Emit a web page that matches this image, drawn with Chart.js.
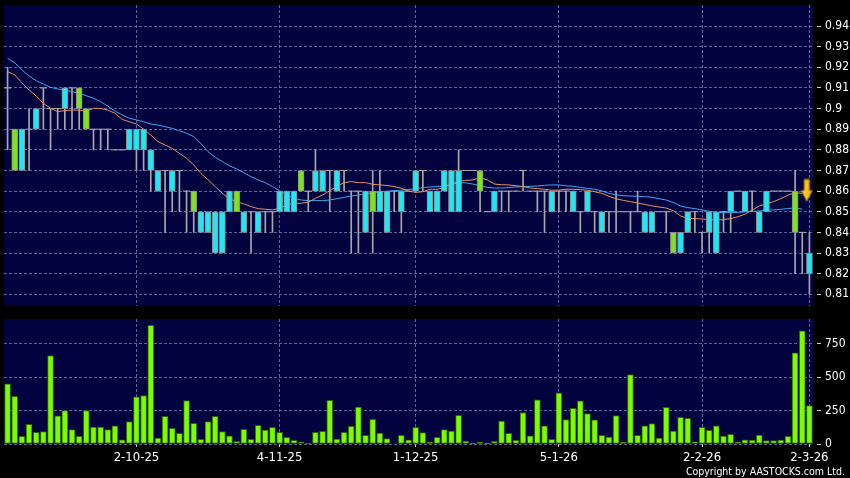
<!DOCTYPE html>
<html><head><meta charset="utf-8">
<script src="https://cdn.jsdelivr.net/npm/chart.js@4"></script>
<style>
html,body{margin:0;padding:0;background:#000;}
#wrap{position:relative;width:850px;height:478px;overflow:hidden;background:#000;}
#pc{position:absolute;left:0;top:0;width:850px;height:312px;}
#vc{position:absolute;left:0;top:310px;width:850px;height:168px;}
#copy{position:absolute;right:5px;top:464px;color:#fff;font:10.5px "DejaVu Sans Condensed","DejaVu Sans",sans-serif;line-height:14px;white-space:nowrap;}
</style></head>
<body><div id="wrap">
<canvas id="pc" width="850" height="312"></canvas>
<canvas id="vc" width="850" height="168"></canvas>
<div id="copy">Copyright by AASTOCKS.com Ltd.</div>
</div>
<script>
// ---- data ----
const tickIndex = [18, 38, 57, 77, 97, 112];
const tickText = ['2-10-25', '4-11-25', '1-12-25', '5-1-26', '2-2-26', '2-3-26'];
const priceTicks = [0.81,0.82,0.83,0.84,0.85,0.86,0.87,0.88,0.89,0.90,0.91,0.92,0.93,0.94];
const volumeTicks = [0, 250, 500, 750];

const openP = [
 .91,.87,.89,.89,.90,.91,.90,.90,.91,.91,
 .90,.89,.89,.89,.89,.88,.88,.89,.89,.89,
 .88,.87,.87,.87,.87,.86,.85,.85,.85,.85,
 .85,.86,.85,.85,.85,.85,.85,.85,.86,.86,
 .86,.86,.86,.87,.87,.87,.87,.87,.86,.86,
 .86,.85,.86,.86,.86,.86,.86,.87,.87,.86,
 .86,.87,.87,.87,.87,.87,.86,.85,.86,.86,
 .86,.86,.87,.86,.86,.86,.86,.86,.86,.86,
 .85,.86,.85,.85,.85,.85,.85,.85,.85,.85,
 .85,.85,.85,.83,.84,.85,.85,.84,.85,.85,
 .85,.86,.86,.86,.86,.85,.86,.86,.86,.86,
 .84,.84,.83];
const highP = [
 .92,.89,.89,.90,.90,.91,.90,.90,.91,.91,
 .91,.90,.89,.89,.89,.88,.88,.89,.89,.89,
 .88,.87,.87,.87,.87,.86,.86,.85,.85,.85,
 .85,.86,.86,.85,.85,.85,.85,.85,.86,.86,
 .86,.87,.86,.88,.87,.87,.87,.87,.86,.86,
 .86,.87,.87,.86,.86,.86,.86,.87,.87,.86,
 .86,.87,.87,.88,.87,.87,.87,.85,.86,.86,
 .86,.86,.87,.86,.86,.86,.86,.86,.86,.86,
 .85,.86,.85,.85,.85,.86,.85,.85,.86,.85,
 .85,.85,.85,.84,.84,.85,.85,.84,.85,.85,
 .85,.86,.86,.86,.86,.85,.86,.86,.86,.86,
 .87,.84,.84];
const lowP = [
 .88,.87,.87,.87,.89,.89,.88,.89,.89,.89,
 .89,.89,.88,.88,.88,.88,.88,.88,.87,.87,
 .86,.86,.84,.85,.85,.84,.84,.84,.84,.83,
 .83,.85,.85,.84,.83,.84,.84,.84,.85,.85,
 .85,.86,.85,.86,.86,.85,.86,.86,.83,.83,
 .84,.83,.85,.84,.85,.84,.86,.86,.86,.85,
 .85,.86,.85,.85,.87,.87,.85,.85,.85,.85,
 .85,.86,.86,.86,.85,.84,.85,.85,.85,.85,
 .84,.85,.84,.84,.84,.84,.85,.84,.85,.84,
 .84,.85,.84,.83,.83,.84,.84,.83,.83,.83,
 .84,.84,.86,.85,.85,.84,.85,.86,.86,.86,
 .82,.82,.81];
const closeP = [
 .91,.89,.87,.89,.89,.91,.90,.90,.90,.91,
 .91,.90,.89,.89,.89,.88,.88,.88,.88,.88,
 .87,.86,.87,.86,.87,.86,.86,.84,.84,.83,
 .83,.85,.86,.84,.85,.84,.85,.85,.85,.85,
 .85,.87,.86,.86,.86,.87,.86,.87,.86,.86,
 .84,.86,.85,.84,.86,.85,.86,.86,.87,.85,
 .85,.86,.85,.85,.87,.87,.87,.85,.85,.86,
 .86,.86,.87,.86,.86,.86,.85,.86,.86,.85,
 .85,.85,.85,.84,.85,.85,.85,.85,.85,.84,
 .84,.85,.85,.84,.83,.84,.85,.84,.84,.83,
 .85,.85,.86,.85,.86,.84,.85,.86,.86,.86,
 .86,.84,.82];
const maShort = [
 .9179,.9163,.9125,.9090,.9061,.9025,.9001,.8985,.8990,.8993,
 .8993,.8988,.9001,.9001,.8993,.8977,.8948,.8936,.8925,.8900,
 .8872,.8840,.8823,.8807,.8783,.8759,.8727,.8686,.8655,.8622,
 .8589,.8562,.8549,.8538,.8525,.8515,.8512,.8509,.8517,.8533,
 .8541,.8541,.8546,.8565,.8581,.8602,.8622,.8641,.8646,.8641,
 .8641,.8633,.8630,.8627,.8622,.8614,.8600,.8594,.8597,.8609,
 .8609,.8618,.8634,.8646,.8652,.8654,.8665,.8654,.8634,.8631,
 .8630,.8626,.8622,.8615,.8612,.8609,.8604,.8605,.8609,.8609,
 .8607,.8604,.8597,.8589,.8575,.8563,.8555,.8549,.8542,.8536,
 .8528,.8523,.8518,.8505,.8480,.8468,.8467,.8465,.8462,.8460,
 .8462,.8467,.8476,.8488,.8508,.8528,.8538,.8549,.8563,.8581,
 .8593,.8589,null];
const maLong = [
 .9243,.9222,.9187,.9158,.9135,.9119,.9103,.9095,.9090,.9082,
 .9074,.9062,.9050,.9033,.9012,.8988,.8969,.8953,.8945,.8936,
 .8925,.8920,.8912,.8904,.8893,.8880,.8864,.8831,.8791,.8764,
 .8743,.8723,.8707,.8689,.8670,.8654,.8641,.8622,.8602,.8581,
 .8565,.8557,.8554,.8554,.8554,.8557,.8563,.8570,.8576,.8581,
 .8586,.8593,.8596,.8599,.8602,.8605,.8608,.8611,.8617,.8620,
 .8622,.8625,.8633,.8640,.8640,.8634,.8626,.8618,.8615,.8615,
 .8617,.8620,.8622,.8623,.8625,.8628,.8630,.8630,.8626,.8623,
 .8618,.8613,.8609,.8601,.8589,.8582,.8578,.8576,.8575,.8573,
 .8570,.8563,.8557,.8544,.8528,.8520,.8515,.8509,.8502,.8497,
 .8496,.8496,.8497,.8499,.8502,.8504,.8507,.8509,.8512,.8515,
 .8520,.8512,null];
const volume = [
 450,357,57,147,87,92,662,210,250,107,
 57,250,127,127,107,135,32,167,352,362,
 887,45,207,117,80,325,155,35,167,207,
 92,62,20,110,35,140,105,125,87,50,
 27,15,7,87,95,327,37,87,132,277,
 65,185,82,40,0,65,32,125,85,12,
 50,107,97,215,22,2,12,2,20,172,
 80,27,235,62,330,135,35,382,182,267,
 322,227,180,65,52,212,12,520,65,135,
 152,45,275,97,200,192,17,125,102,135,
 60,72,12,32,30,67,25,25,30,57,
 682,847,287];
const signalIndex = 111;
const signalPrice = 0.8603;

// ---- derived tables ----
const categories = volume.map((_, i) => { const k = tickIndex.indexOf(i); return k >= 0 ? tickText[k] : ''; });
const wicks = lowP.map((l, i) => [l, highP[i]]);
const bodies = openP.map((o, i) => o === closeP[i] ? null : [o, closeP[i]]);
const bodyColors = openP.map((o, i) => closeP[i] > o ? '#7fe21e' : '#22e6f2');
const doji = openP.map((o, i) => o === closeP[i] ? closeP[i] : null);
const signal = volume.map((_, i) => i === signalIndex ? signalPrice : null);

// ---- styles ----
const NAVY = '#02023f';
const GRID = 'rgba(130,130,185,0.75)';
const FONT = '"DejaVu Sans Condensed", "DejaVu Sans", sans-serif';
const isTick = i => tickIndex.includes(i);

function makeArrow() {
  const c = document.createElement('canvas');
  c.width = 22; c.height = 24;
  const g = c.getContext('2d');
  const cx = 15.5;
  const grd = g.createLinearGradient(cx - 6, 0, cx + 6, 0);
  grd.addColorStop(0, '#ffe24a'); grd.addColorStop(1, '#f0a400');
  g.beginPath();
  g.moveTo(cx - 2.6, 1); g.lineTo(cx + 2.6, 1); g.lineTo(cx + 2.6, 12);
  g.lineTo(cx + 5.6, 12); g.lineTo(cx, 23); g.lineTo(cx - 5.6, 12);
  g.lineTo(cx - 2.6, 12); g.closePath();
  g.fillStyle = grd; g.fill();
  g.lineWidth = 1; g.strokeStyle = '#9a6400'; g.stroke();
  return c;
}

const bgPlugin = {
  id: 'bg',
  beforeDraw(chart) {
    const { ctx, chartArea: a } = chart;
    ctx.save();
    ctx.fillStyle = '#000';
    ctx.fillRect(0, 0, chart.width, chart.height);
    ctx.fillStyle = NAVY;
    ctx.fillRect(a.left, a.top, a.right - a.left, a.bottom - a.top);
    ctx.restore();
  }
};

function yAxis(min, max, ticksArr, fmt) {
  return {
    position: 'right', min, max,
    afterBuildTicks: s => { s.ticks = ticksArr.map(v => ({ value: v })); },
    afterFit: s => { s.width = 37; s.paddingTop = 0; s.paddingBottom = 0; },
    ticks: { color: '#ffffff', font: { family: FONT, size: 12 }, padding: 4, callback: fmt },
    grid: { color: GRID, drawTicks: true, tickLength: 8, tickColor: '#d0d0d0',
            tickBorderDash: [4, 4], tickBorderDashOffset: 4 },
    border: { display: false, dash: [3, 2] }
  };
}

function xAxis(showLabels) {
  return {
    type: 'category', offset: true,
    afterFit: s => { s.height = showLabels ? 34 : 0; s.paddingLeft = 0; s.paddingRight = 0; },
    ticks: { display: showLabels, autoSkip: false, maxRotation: 0, minRotation: 0,
             color: '#ffffff', font: { family: FONT, size: 13 }, padding: 3,
             callback: (v, i) => categories[i] },
    grid: { offset: false, drawTicks: showLabels, tickLength: 3,
            color: c => isTick(c.index) ? GRID : 'rgba(0,0,0,0)',
            tickColor: c => isTick(c.index) ? '#d0d0d0' : 'rgba(0,0,0,0)' },
    border: { display: false, dash: [3, 2] }
  };
}

const common = {
  responsive: false, animation: false, devicePixelRatio: 1, events: [],
  plugins: { legend: { display: false }, tooltip: { enabled: false } }
};

new Chart(document.getElementById('pc'), {
  type: 'bar',
  data: {
    labels: categories,
    datasets: [
      { type: 'line', data: signal, order: 0, showLine: false,
        pointStyle: makeArrow(), pointRadius: 11 },
      { type: 'bar', data: bodies, order: 1, grouped: false, barThickness: 6,
        backgroundColor: bodyColors, borderColor: '#8c8c8c', borderWidth: 1, borderSkipped: false },
      { type: 'line', data: maShort, order: 2, borderColor: '#e8905c', borderWidth: 1,
        pointRadius: 0, tension: 0, spanGaps: false },
      { type: 'line', data: maLong, order: 3, borderColor: '#3fa6ee', borderWidth: 1,
        pointRadius: 0, tension: 0, spanGaps: false },
      { type: 'line', data: doji, order: 4, showLine: false, pointStyle: 'line',
        pointRadius: 3.6, pointBorderColor: '#a8a8a8', pointBorderWidth: 1,
        pointBackgroundColor: '#a8a8a8' },
      { type: 'bar', data: wicks, order: 5, grouped: false, barThickness: 1,
        backgroundColor: '#a8a8a8', borderWidth: 0 }
    ]
  },
  options: Object.assign({}, common, {
    layout: { autoPadding: false, padding: { left: 4, top: 5, right: 0, bottom: 6 } },
    scales: {
      x: xAxis(false),
      y: yAxis(0.80433, 0.95018, priceTicks, v => String(parseFloat(Number(v).toFixed(2))))
    }
  }),
  plugins: [bgPlugin]
});

new Chart(document.getElementById('vc'), {
  type: 'bar',
  data: {
    labels: categories,
    datasets: [
      { data: volume, barThickness: 6, backgroundColor: '#7cfc00',
        borderColor: '#2f6200', borderWidth: 1, borderSkipped: false }
    ]
  },
  options: Object.assign({}, common, {
    layout: { autoPadding: false, padding: { left: 4, top: 9, right: 0, bottom: 0 } },
    scales: {
      x: xAxis(true),
      y: yAxis(0, 935, volumeTicks, v => String(v))
    }
  }),
  plugins: [bgPlugin]
});
</script>
</body></html>
